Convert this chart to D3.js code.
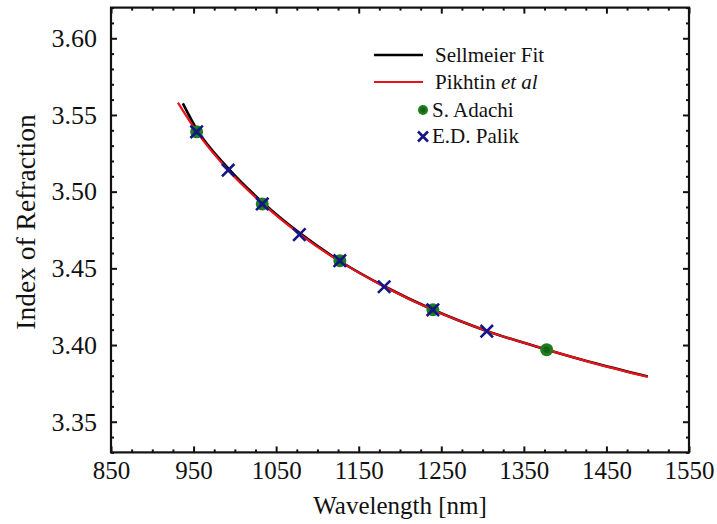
<!DOCTYPE html>
<html>
<head>
<meta charset="utf-8">
<script src="https://cdn.jsdelivr.net/npm/d3@7"></script>
<style>
  html, body { margin: 0; padding: 0; background: #fff; }
  svg { display: block; }
</style>
</head>
<body>
<svg id="chart" width="717" height="524"></svg>
<script>
// Refractive index vs wavelength
const sellmeierWl  = [937, 954, 992, 1034, 1079, 1127, 1182, 1240, 1305, 1378, 1440, 1500];
const sellmeierN   = [3.5576, 3.5405, 3.5152, 3.4928, 3.4728, 3.4548, 3.4380, 3.4230, 3.4092, 3.3970, 3.3876, 3.3795];
const pikhtinWl    = [931, 954, 992, 1034, 1079, 1127, 1182, 1240, 1305, 1378, 1440, 1500];
const pikhtinN     = [3.5580, 3.5390, 3.5140, 3.4920, 3.4722, 3.4545, 3.4378, 3.4228, 3.4092, 3.3970, 3.3874, 3.3793];
const adachiWl     = [953.7, 1033.2, 1127.1, 1239.8, 1377.6];
const adachiN      = [3.539, 3.492, 3.455, 3.423, 3.397];
const palikWl      = [953.7, 991.9, 1033.2, 1078.1, 1127.1, 1180.8, 1239.8, 1305.1];
const palikN       = [3.539, 3.514, 3.492, 3.472, 3.455, 3.438, 3.423, 3.409];
const xMajorTicks  = [850, 950, 1050, 1150, 1250, 1350, 1450, 1550];
const yMajorTicks  = [3.35, 3.40, 3.45, 3.50, 3.55, 3.60];
const legendLabels = ["Sellmeier Fit", "Pikhtin", "S. Adachi", "E.D. Palik"];

const FONT = "'Liberation Serif', 'Times New Roman', Times, 'DejaVu Serif', serif";
const INK = "#111";

const svg = d3.select("#chart");
const L = 111, R = 689, T = 7.6, B = 452.4;

const x = d3.scaleLinear().domain([850, 1550]).range([L, R]);
const y = d3.scaleLinear().domain([3.33, 3.62]).range([B, T]);

const xMinor = d3.range(850, 1551, 25).filter(v => (v - 850) % 100 !== 0);
const yMinor = d3.range(333, 363).map(v => v / 100).filter(v => Math.round(v * 100) % 5 !== 0);

const fmtY = d3.format(".2f");

function styleAxis(size) {
  return g => {
    g.select(".domain").remove();
    g.selectAll(".tick line").attr("stroke", INK).attr("stroke-width", 2);
    g.selectAll("text").attr("font-family", FONT).attr("font-size", size).attr("fill", INK);
  };
}

// bottom axis with labels
svg.append("g").attr("transform", `translate(0,${B})`)
  .call(d3.axisBottom(x).tickValues(xMajorTicks).tickSize(-6).tickPadding(9).tickFormat(d3.format("d")))
  .call(styleAxis(25));
svg.append("g").attr("transform", `translate(0,${B})`)
  .call(d3.axisBottom(x).tickValues(xMinor).tickSize(-3).tickFormat(""))
  .call(styleAxis(25));
// top mirrored ticks
svg.append("g").attr("transform", `translate(0,${T})`)
  .call(d3.axisTop(x).tickValues(xMajorTicks).tickSize(-6).tickFormat(""))
  .call(styleAxis(25));
svg.append("g").attr("transform", `translate(0,${T})`)
  .call(d3.axisTop(x).tickValues(xMinor).tickSize(-3).tickFormat(""))
  .call(styleAxis(25));

// left axis with labels
svg.append("g").attr("transform", `translate(${L},0)`)
  .call(d3.axisLeft(y).tickValues(yMajorTicks).tickSize(-6).tickPadding(14).tickFormat(fmtY))
  .call(styleAxis(26));
svg.append("g").attr("transform", `translate(${L},0)`)
  .call(d3.axisLeft(y).tickValues(yMinor).tickSize(-3).tickFormat(""))
  .call(styleAxis(26));
// right mirrored ticks
svg.append("g").attr("transform", `translate(${R},0)`)
  .call(d3.axisRight(y).tickValues(yMajorTicks).tickSize(-6).tickFormat(""))
  .call(styleAxis(26));
svg.append("g").attr("transform", `translate(${R},0)`)
  .call(d3.axisRight(y).tickValues(yMinor).tickSize(-3).tickFormat(""))
  .call(styleAxis(26));

// frame
svg.append("rect").attr("x", L).attr("y", T).attr("width", R - L).attr("height", B - T)
  .attr("fill", "none").attr("stroke", INK).attr("stroke-width", 2.2);

// axis titles
svg.append("text").attr("x", (L + R) / 2).attr("y", 514).attr("text-anchor", "middle")
  .attr("font-family", FONT).attr("font-size", 25).attr("fill", INK).text("Wavelength [nm]");
svg.append("text").attr("transform", `translate(35,222) rotate(-90)`)
  .attr("text-anchor", "middle").attr("font-family", FONT).attr("font-size", 27.5).attr("fill", INK)
  .text("Index of Refraction");

// curves
const line = d3.line().x(d => x(d[0])).y(d => y(d[1])).curve(d3.curveMonotoneX);
svg.append("path").datum(d3.zip(sellmeierWl, sellmeierN))
  .attr("d", line).attr("fill", "none").attr("stroke", "#000").attr("stroke-width", 2.6);
svg.append("path").datum(d3.zip(pikhtinWl, pikhtinN))
  .attr("d", line).attr("fill", "none").attr("stroke", "#e8121b").attr("stroke-width", 2.2);

// markers
function drawDot(g, cx, cy, r) {
  g.append("circle").attr("cx", cx).attr("cy", cy).attr("r", r).attr("fill", "#1e7d1e");
  g.append("circle").attr("cx", cx).attr("cy", cy).attr("r", r * 0.5).attr("fill", "#0f5a12").attr("opacity", 0.7);
}
function drawCross(g, cx, cy, h) {
  g.append("path")
    .attr("d", `M${cx - h},${cy - h}L${cx + h},${cy + h}M${cx - h},${cy + h}L${cx + h},${cy - h}`)
    .attr("stroke", "#15158a").attr("stroke-width", 2.6).attr("fill", "none");
}
const dots = svg.append("g");
d3.zip(adachiWl, adachiN).forEach(([w, n]) => drawDot(dots, x(w), y(n), 6.5));
const crosses = svg.append("g");
d3.zip(palikWl, palikN).forEach(([w, n]) => drawCross(crosses, x(w), y(n), 6.2));

// legend
const lg = svg.append("g").attr("font-family", FONT).attr("fill", INK);
const lx0 = 374, lx1 = 423, tx = 435, fs = 21;
lg.append("line").attr("x1", lx0).attr("x2", lx1).attr("y1", 55).attr("y2", 55)
  .attr("stroke", "#000").attr("stroke-width", 2.6);
lg.append("text").attr("x", tx).attr("y", 62).attr("font-size", fs).text(legendLabels[0]);
lg.append("line").attr("x1", lx0).attr("x2", lx1).attr("y1", 82).attr("y2", 82)
  .attr("stroke", "#e8121b").attr("stroke-width", 2.2);
const pt = lg.append("text").attr("x", tx).attr("y", 89).attr("font-size", fs);
pt.append("tspan").text(legendLabels[1] + " ");
pt.append("tspan").attr("font-style", "italic").text("et al");
drawDot(lg, 423, 110, 5);
lg.append("text").attr("x", 432).attr("y", 117).attr("font-size", fs).text(legendLabels[2]);
drawCross(lg, 423, 136.5, 5);
lg.append("text").attr("x", 432).attr("y", 143).attr("font-size", fs).text(legendLabels[3]);
</script>
</body>
</html>
